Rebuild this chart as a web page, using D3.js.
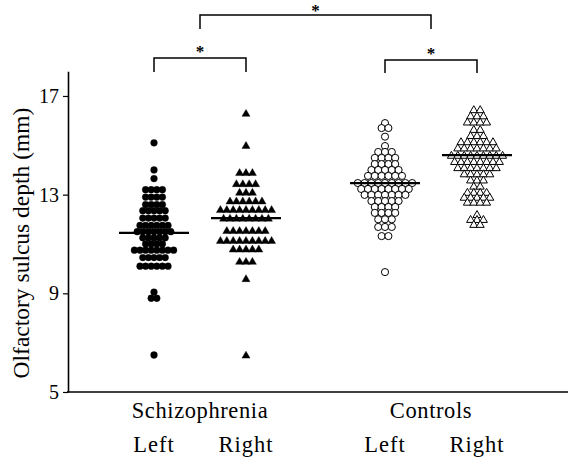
<!DOCTYPE html>
<html><head><meta charset="utf-8">
<script src="https://cdn.jsdelivr.net/npm/d3@7"></script>
<style>body{margin:0;background:#fff}svg{display:block}</style>
</head><body><svg id="c" width="570" height="460"></svg>
<script>
// ---------- data ----------
const groups = ["Schizophrenia", "Controls"];
const sides = ["Left", "Right"];
const yTicks = [5, 9, 13, 17];

const szLeft = [15.1, 14.0, 13.65,
  13.2,13.2,13.2,13.2, 12.9,12.9,12.9,12.9, 12.6,12.6,12.6,12.6,
  12.35,12.35,12.35,12.35,12.35, 12.05,12.05,12.05,12.05,12.05,
  11.75,11.75,11.75,11.75,11.75,11.75, 11.5,11.5,11.5,11.5,11.5,11.5,11.5,
  11.25,11.25,11.25,11.25,11.25, 11.0,11.0,11.0,11.0,
  10.75,10.75,10.75,10.75,10.75,10.75,10.75,10.75, 10.45,10.45,10.45,10.45,10.45,
  10.1,10.1,10.1,10.1,10.1,10.1, 9.05, 8.8,8.8, 6.5];

const szRight = [16.3, 15.0, 13.9,13.9,13.9, 13.45,13.45,13.45,13.45, 13.1,13.1,13.1,
  12.75,12.75,12.75,12.75,12.75,12.75, 12.4,12.4,12.4,12.4,12.4,12.4,12.4,12.4,12.4,
  12.05,12.05,12.05,12.05,12.05,12.05,12.05,12.05,
  11.55,11.55,11.55,11.55,11.55,11.55,11.55, 11.15,11.15,11.15,11.15,11.15,11.15,11.15,11.15,11.15,
  10.8,10.8,10.8,10.8,10.8, 10.3,10.3,10.3, 9.6, 6.5];

const ctLeft = [15.9, 15.7,15.7, 15.35, 14.97, 14.73,14.73,14.73, 14.49,14.49,14.49,14.49,
  14.24,14.24,14.24,14.24, 14.0,14.0,14.0,14.0,14.0, 13.76,13.76,13.76,13.76,13.76,13.76,
  13.47,13.47,13.47,13.47,13.47,13.47,13.47,13.47,13.47,
  13.23,13.23,13.23,13.23,13.23,13.23,13.23,13.23, 12.99,12.99,12.99,12.99,12.99,12.99,12.99,
  12.74,12.74,12.74,12.74,12.74, 12.5,12.5,12.5,12.5, 12.26,12.26,12.26,12.26,
  12.0,12.0,12.0, 11.69,11.69,11.69, 11.32,11.32, 9.86];

const ctRight = [16.45,16.45, 16.2,16.2,16.2, 15.95,15.95,15.95,15.95, 15.65,15.65,
  15.4,15.4,15.4, 15.15,15.15,15.15,15.15,15.15,15.15, 14.9,14.9,14.9,14.9,14.9,14.9,14.9,
  14.6,14.6,14.6,14.6,14.6,14.6,14.6,14.6,14.6, 14.35,14.35,14.35,14.35,14.35,14.35,14.35,14.35,
  14.1,14.1,14.1,14.1,14.1,14.1,14.1, 13.85,13.85,13.85,13.85,13.85, 13.6,13.6,13.6,
  13.35,13.35, 13.1,13.1,13.1,13.1, 12.9,12.9,12.9,12.9,12.9, 12.7,12.7,12.7,12.7,
  12.2, 12.0,12.0,12.0, 11.8,11.8];

const seriesValues = [szLeft, szRight, ctLeft, ctRight];
const seriesGroup = ["Schizophrenia", "Schizophrenia", "Controls", "Controls"];
const seriesSide = ["Left", "Right", "Left", "Right"];
const means = [11.45, 12.05, 13.47, 14.6];
const yLabel = "Olfactory sulcus depth (mm)";
const sigLabel = "*";

// ---------- layout / style ----------
const svg = d3.select("#c");
const font = "'Liberation Serif','Times New Roman',serif";
const y = d3.scaleLinear().domain([5, 18]).range([392, 71.3]);
const xGroup = d3.scalePoint().domain(groups).range([200, 431]);
const xSide = d3.scalePoint().domain(sides).range([-46, 46]);
const cx = i => xGroup(seriesGroup[i]) + xSide(seriesSide[i]);
const markerShape = [d3.symbolCircle, d3.symbolTriangle, d3.symbolCircle, d3.symbolTriangle];
const markerFilled = [true, true, false, false];
const markerSize = [36, 28, 40, 28];
const spacing = [5.6, 6.4, 6.8, 6.4];

// dots
seriesValues.forEach((vals, i) => {
  const rows = d3.rollups(vals, v => v.length, v => v);
  const pts = [];
  rows.forEach(([v, n]) => {
    for (let k = 0; k < n; k++) pts.push({x: cx(i) + (k - (n - 1) / 2) * spacing[i], y: y(v)});
  });
  const sym = d3.symbol().type(markerShape[i]).size(markerSize[i]);
  svg.append("g").selectAll("path").data(pts).join("path")
    .attr("d", sym)
    .attr("transform", d => `translate(${d.x},${d.y + (markerShape[i] === d3.symbolTriangle ? 0.8 : 0)})`)
    .attr("fill", markerFilled[i] ? "#000" : "#fff")
    .attr("stroke", "#000")
    .attr("stroke-width", markerFilled[i] ? 0.4 : 1);
});

// mean lines
svg.append("g").selectAll("line").data(means).join("line")
  .attr("x1", (d, i) => cx(i) - 35).attr("x2", (d, i) => cx(i) + 35)
  .attr("y1", d => y(d)).attr("y2", d => y(d))
  .attr("stroke", "#000").attr("stroke-width", 2.2);

// y axis
const ax = svg.append("g").attr("transform", "translate(68,0)")
  .call(d3.axisLeft(y).tickValues(yTicks).tickSize(5).tickSizeOuter(0).tickPadding(4).tickFormat(d3.format("d")));
ax.select(".domain").attr("stroke-width", 1.6);
ax.selectAll(".tick line").attr("stroke-width", 1.2);
ax.selectAll(".tick text").attr("font-family", font).attr("font-size", 20).attr("fill", "#000");

// x baseline
svg.append("line").attr("x1", 67).attr("x2", 568).attr("y1", y(5)).attr("y2", y(5))
  .attr("stroke", "#000").attr("stroke-width", 1.6);

// y label
svg.append("text").attr("transform", `translate(29,${243}) rotate(-90)`)
  .attr("text-anchor", "middle").attr("font-family", font).attr("font-size", 23.5).text(yLabel);

// category labels
svg.append("g").selectAll("text").data(groups).join("text")
  .attr("x", d => xGroup(d)).attr("y", 418).attr("text-anchor", "middle")
  .attr("font-family", font).attr("font-size", 22.5).attr("letter-spacing", 0.6).text(d => d);
svg.append("g").selectAll("text").data(seriesSide).join("text")
  .attr("x", (d, i) => cx(i)).attr("y", 452).attr("text-anchor", "middle")
  .attr("font-family", font).attr("font-size", 22.5).attr("letter-spacing", 1).text(d => d);

// significance brackets
const brackets = [
  {x1: cx(0), x2: cx(1), top: 58, drop: 14, sx: (cx(0) + cx(1)) / 2, sy: 57},
  {x1: cx(2), x2: cx(3), top: 60, drop: 13, sx: (cx(2) + cx(3)) / 2, sy: 59},
  {x1: xGroup(groups[0]), x2: xGroup(groups[1]), top: 15, drop: 14, sx: (xGroup(groups[0]) + xGroup(groups[1])) / 2, sy: 16}
];
const bg = svg.append("g");
brackets.forEach(b => {
  bg.append("path")
    .attr("d", `M${b.x1},${b.top + b.drop}V${b.top}H${b.x2}V${b.top + b.drop}`)
    .attr("fill", "none").attr("stroke", "#000").attr("stroke-width", 1.5);
  bg.append("text").attr("x", b.sx).attr("y", b.sy).attr("text-anchor", "middle")
    .attr("font-family", font).attr("font-weight", "bold").attr("font-size", 17).text(sigLabel);
});
</script></body></html>
